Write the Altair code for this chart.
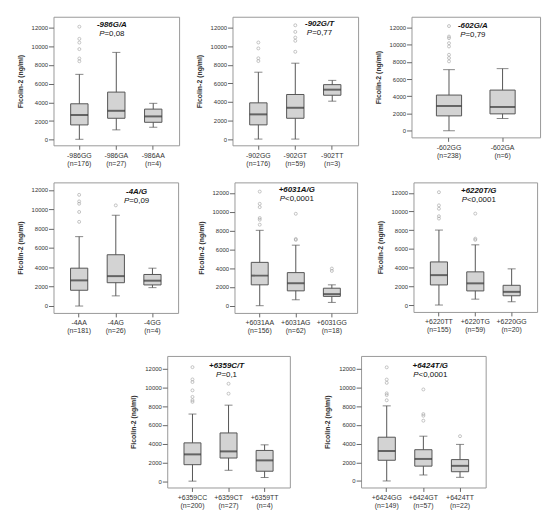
import altair as alt
import pandas as pd

FONT = "Liberation Sans"

markers = ["-986G/A", "-902G/T", "-602G/A", "-4A/G",
           "+6031A/G", "+6220T/G", "+6359C/T", "+6424T/G"]
p_values = ["=0,08", "=0,77", "=0,79", "=0,09",
            "<0,0001", "<0,0001", "=0,1", "<0,0001"]
genotypes = [
    ["-986GG", "-986GA", "-986AA"],
    ["-902GG", "-902GT", "-902TT"],
    ["-602GG", "-602GA"],
    ["-4AA", "-4AG", "-4GG"],
    ["+6031AA", "+6031AG", "+6031GG"],
    ["+6220TT", "+6220TG", "+6220GG"],
    ["+6359CC", "+6359CT", "+6359TT"],
    ["+6424GG", "+6424GT", "+6424TT"],
]
group_n = [[176, 27, 4], [176, 59, 3], [238, 6], [181, 26, 4],
           [156, 62, 18], [155, 59, 20], [200, 27, 4], [149, 57, 22]]
whisker_low = [[50, 1060, 1340], [0, 0, 4080], [0, 1420], [0, 1050, 1900],
               [0, 630, 350], [0, 630, 350], [0, 1160, 390], [0, 640, 390]]
q1 = [[1590, 2300, 1870], [1530, 2240, 4720], [1725, 1960], [1630, 2410, 2180],
      [2220, 1580, 990], [2150, 1510, 990], [1760, 2470, 1060], [2220, 1590, 990]]
medians = [[2650, 3100, 2500], [2660, 3370, 5320], [2875, 2760], [2650, 3090, 2620],
           [3200, 2390, 1230], [3200, 2320, 1410], [2860, 3180, 2220], [3210, 2360, 1620]]
q3 = [[3850, 5100, 3280], [3900, 4800, 5860], [4140, 4720], [3910, 5300, 3260],
      [4610, 3520, 1860], [4610, 3550, 2110], [4090, 5150, 3280], [4690, 3350, 2290]]
whisker_high = [[7000, 9350, 3900], [7200, 8170, 6320], [7090, 7210], [7170, 9380, 3910],
                [8020, 6440, 2220], [8020, 6440, 3870], [7170, 8120, 3880], [8050, 4800, 3920]]
outliers = [
    [[8400, 8700, 9700, 10400, 10800, 12100], [], []],
    [[8400, 8700, 9760, 10400], [9400, 10580, 10930, 11540, 12250], []],
    [[8050, 8440, 8820, 9780, 10160, 10740, 10930, 12150], []],
    [[8700, 9720, 10570, 10810, 11490], [10400], []],
    [[8620, 9150, 9330, 10490, 10840, 12140], [7000, 7100, 9780], [3700, 3950]],
    [[9250, 9500, 10300, 10660, 12070], [6970, 7100, 9780], []],
    [[8470, 8650, 9000, 9700, 10590, 10870, 12180], [9350, 10410], []],
    [[8650, 9210, 9390, 10520, 10870, 12180], [6460, 6990, 7170, 9810], [4800]],
]
y_ticks = [0, 2000, 4000, 6000, 8000, 10000, 12000]

# layout (pixels): width, height, y-domain, title centre x, line y's
layout = [
    (127, 130, [-593, 13165], 59, 8.5, 17.7),
    (127, 130, [-671, 13171], 88, 7.5, 16.5),
    (130, 122, [-771, 13231], 62, 9.4, 18.4),
    (126, 132, [-714, 12775], 84, 9.3, 19.3),
    (124, 132, [-770, 13119], 63, 7.6, 17.3),
    (125, 131, [-740, 13119], 66, 8.3, 17.6),
    (124, 133, [-678, 13377], 60, 10.3, 19.3),
    (126, 133, [-700, 13400], 70, 10.3, 19.3),
]

CW = {"P": 0.667, "=": 0.584, "<": 0.584, ",": 0.278}


def text_w(s, fs):
    return sum(CW.get(c, 0.556) for c in s) * fs


def panel(i):
    w, h, dom, tx, ty1, ty2 = layout[i]
    cats = genotypes[i]
    labels = [f"{g}|(n={n})" for g, n in zip(cats, group_n[i])]
    df = pd.DataFrame({"g": labels, "lo": whisker_low[i], "q1": q1[i],
                       "med": medians[i], "q3": q3[i], "hi": whisker_high[i]})
    rows = [{"g": labels[j], "v": v} for j in range(len(cats)) for v in outliers[i][j]]
    od = pd.DataFrame(rows, columns=["g", "v"])
    step = w / (len(cats) + 0.4)

    xs = alt.Scale(domain=labels, paddingInner=0, paddingOuter=0.2)
    xax = alt.Axis(title=None, labelAngle=0, labelExpr="split(datum.label, '|')",
                   domain=False, grid=False, tickSize=4, tickColor="#666",
                   labelFontSize=7, labelLineHeight=8, labelPadding=2,
                   labelColor="#333", labelFont=FONT)
    ys = alt.Scale(domain=dom, nice=False, zero=False)
    yax = alt.Axis(title="Ficolin-2 (ng/ml)", values=y_ticks, format="d",
                   domain=False, grid=False, tickSize=5, tickColor="#666",
                   labelFontSize=6, labelPadding=1, labelColor="#333", labelFont=FONT,
                   titleFontSize=7, titleFontWeight="bold", titlePadding=8,
                   titleColor="#333", titleFont=FONT)

    base = alt.Chart(df)
    X = alt.X("g:N", scale=xs, axis=xax, sort=labels)
    whisk = base.mark_rule(color="#555", strokeWidth=1).encode(
        x=X, y=alt.Y("lo:Q", scale=ys, axis=yax), y2="hi:Q")
    cap_lo = base.mark_tick(color="#555", thickness=1, size=0.22 * step).encode(
        x=X, y=alt.Y("lo:Q", scale=ys, axis=yax))
    cap_hi = base.mark_tick(color="#555", thickness=1, size=0.22 * step).encode(
        x=X, y=alt.Y("hi:Q", scale=ys, axis=yax))
    box = base.mark_bar(size=0.47 * step, fill="#d3d3d3", stroke="#555",
                        strokeWidth=1).encode(
        x=X, y=alt.Y("q1:Q", scale=ys, axis=yax), y2="q3:Q")
    med = base.mark_tick(color="#333", thickness=2, size=0.47 * step).encode(
        x=X, y=alt.Y("med:Q", scale=ys, axis=yax))
    outl = alt.Chart(od).mark_point(shape="circle", filled=False, size=9,
                                    color="#a0a0a0", strokeWidth=0.9).encode(
        x=X, y=alt.Y("v:Q", scale=ys, axis=yax))

    tdf = pd.DataFrame({"t": [markers[i]], "p": ["P"], "r": [p_values[i]]})
    fs = 8
    tot = text_w("P" + p_values[i], fs)
    split = tx - tot / 2 + CW["P"] * fs
    t1 = alt.Chart(tdf).mark_text(font=FONT, fontSize=fs, fontStyle="italic",
                                  fontWeight="bold", align="center",
                                  baseline="middle", color="#111").encode(
        x=alt.value(tx), y=alt.value(ty1), text="t:N")
    t2a = alt.Chart(tdf).mark_text(font=FONT, fontSize=fs, fontStyle="italic",
                                   align="right", baseline="middle",
                                   color="#111").encode(
        x=alt.value(split), y=alt.value(ty2), text="p:N")
    t2b = alt.Chart(tdf).mark_text(font=FONT, fontSize=fs, align="left",
                                   baseline="middle", color="#111").encode(
        x=alt.value(split), y=alt.value(ty2), text="r:N")

    return alt.layer(whisk, cap_lo, cap_hi, box, med, outl, t1, t2a, t2b).properties(
        width=w, height=h)


spacer = alt.Chart(pd.DataFrame({"t": [""]})).mark_text().encode(
    x=alt.value(0), y=alt.value(0), text="t:N").properties(
    width=43, height=10, view=alt.ViewConfig(stroke="transparent"))

row1 = alt.hconcat(panel(0), panel(1), panel(2), spacing=14).resolve_scale(
    x="independent", y="independent")
row2 = alt.hconcat(panel(3), panel(4), panel(5), spacing=17).resolve_scale(
    x="independent", y="independent")
row3 = alt.hconcat(spacer, panel(6), panel(7), spacing=32).resolve_scale(
    x="independent", y="independent")

chart = alt.vconcat(row1, row2, row3, spacing=14.5).resolve_scale(
    x="independent", y="independent").properties(
    padding={"left": 7, "top": 5, "right": 5, "bottom": 5},
    background="white").configure_view(stroke="#999", strokeWidth=1)

chart.save("out.html", embed_options={"renderer": "svg", "actions": False})
